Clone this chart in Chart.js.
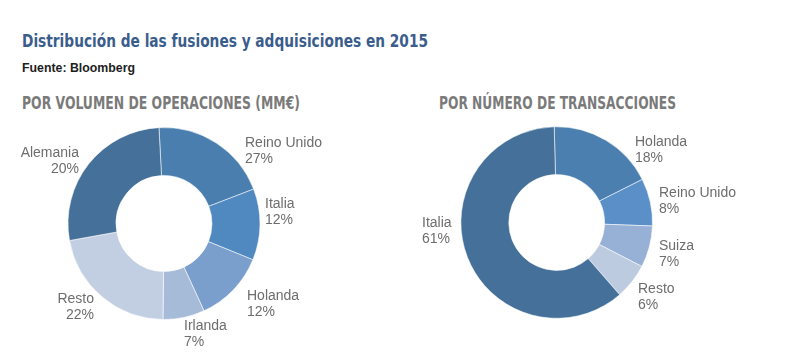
<!DOCTYPE html>
<html>
<head>
<meta charset="utf-8">
<script src="https://cdn.jsdelivr.net/npm/chart.js@4/dist/chart.umd.min.js"></script>
<style>
  html, body { margin:0; padding:0; background:#fff; width:809px; height:357px; overflow:hidden; }
  .t { position:absolute; white-space:nowrap; line-height:1; transform-origin:0 0; display:inline-block; }
  #title { left:22px; top:29.8px; font:bold 18px 'Liberation Sans Narrow','DejaVu Sans Condensed','Liberation Sans',sans-serif; color:#3a5d8c; }
  #source { left:22px; top:61.3px; font:bold 12px 'Liberation Sans','Arial',sans-serif; color:#1e1e1e; }
  .hdr { top:92.6px; font:bold 17px 'Liberation Sans Narrow','DejaVu Sans Condensed','Liberation Sans',sans-serif; color:#7a7a7a; }
  #h1 { left:22px; }
  #h2 { left:439px; }
  canvas { position:absolute; }
  #c1 { left:0; top:115px; }
  #c2 { left:400px; top:115px; }
</style>
</head>
<body>
<div id="title" class="t" data-w="406">Distribución de las fusiones y adquisiciones en 2015</div>
<div id="source" class="t" data-w="113">Fuente: Bloomberg</div>
<div id="h1" class="t hdr" data-w="278">POR VOLUMEN DE OPERACIONES (MM€)</div>
<div id="h2" class="t hdr" data-w="237">POR NÚMERO DE TRANSACCIONES</div>
<canvas id="c1" width="400" height="242"></canvas>
<canvas id="c2" width="409" height="242"></canvas>
<script>
// ---- Data ----
// Left: by deal volume. Slice sizes as drawn, clockwise from top.
const volCategories = ["Reino Unido", "Italia", "Holanda", "Irlanda", "Resto", "Alemania"];
const volValues = [20, 12, 12, 7, 22, 27];
const volPrinted = ["27%", "12%", "12%", "7%", "22%", "20%"];

// Right: by number of transactions, clockwise from top.
const numCategories = ["Holanda", "Reino Unido", "Suiza", "Resto", "Italia"];
const numValues = [18, 8, 7, 6, 61];
const numPrinted = ["18%", "8%", "7%", "6%", "61%"];

// ---- Styles / layout ----
const volColors = ["#4a7eaf", "#5088c0", "#7a9fcd", "#a5bbd8", "#c2cfe3", "#44709a"];
const numColors = ["#4a7fb0", "#5a8fc8", "#97b0d6", "#bccbdf", "#44709a"];
// label offsets relative to doughnut centre: [dx, dy, align]
const volLabelPos = [[81, -80.5, "left"], [101, -19.5, "left"], [83, 72.5, "left"], [20, 102.5, "left"], [-70, 75.5, "right"], [-85, -70.8, "right"]];
const numLabelPos = [[78.3, -80.5, "left"], [102.3, -29.5, "left"], [102.3, 23.5, "left"], [81.3, 66.5, "left"], [-134.7, 0.5, "left"]];

// fit header texts to their widths
document.querySelectorAll('.t').forEach(el => {
  const w = parseFloat(el.dataset.w);
  const r = el.getBoundingClientRect().width;
  if (r > 0) el.style.transform = 'scaleX(' + (w / r) + ')';
});

const labelPlugin = {
  id: 'sliceLabels',
  afterDraw(chart, args, opts) {
    const arc = chart.getDatasetMeta(0).data[0];
    const cx = arc.x, cy = arc.y;
    const ctx = chart.ctx;
    ctx.save();
    ctx.font = '14px "Liberation Sans", Arial, sans-serif';
    ctx.fillStyle = '#6d6d6d';
    ctx.textBaseline = 'middle';
    chart.data.labels.forEach((name, i) => {
      const p = opts.pos[i];
      ctx.textAlign = p[2];
      ctx.fillText(name, cx + p[0], cy + p[1]);
      ctx.fillText(opts.printed[i], cx + p[0], cy + p[1] + 16.5);
    });
    ctx.restore();
  }
};

function makeChart(id, labels, values, colors, rotation, padding, pos, printed) {
  return new Chart(document.getElementById(id), {
    type: 'doughnut',
    data: {
      labels: labels,
      datasets: [{
        data: values,
        backgroundColor: colors,
        borderColor: 'rgba(255,255,255,0.55)',
        borderWidth: 1,
        hoverBorderWidth: 1
      }]
    },
    options: {
      responsive: false,
      maintainAspectRatio: false,
      animation: false,
      devicePixelRatio: 1,
      rotation: rotation,
      cutout: '50%',
      layout: { padding: padding },
      events: [],
      plugins: {
        legend: { display: false },
        tooltip: { enabled: false },
        title: { display: false },
        sliceLabels: { pos: pos, printed: printed }
      }
    },
    plugins: [labelPlugin]
  });
}

makeChart('c1', volCategories, volValues, volColors, -3,
  { left: 67.5, right: 139.5, top: 12, bottom: 37 }, volLabelPos, volPrinted);
makeChart('c2', numCategories, numValues, numColors, -1.5,
  { left: 60.4, right: 156, top: 11.2, bottom: 38.2 }, numLabelPos, numPrinted);
</script>
</body>
</html>
